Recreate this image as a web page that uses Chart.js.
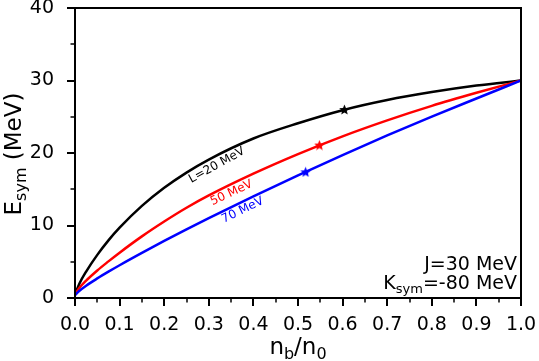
<!DOCTYPE html>
<html>
<head>
<meta charset="utf-8">
<script src="https://cdn.jsdelivr.net/npm/chart.js@4.4.0/dist/chart.umd.min.js"></script>
<style>
  html, body { margin: 0; padding: 0; background: #fff; }
  #wrap { width: 539px; height: 361px; }
</style>
</head>
<body>
<div id="wrap"><canvas id="chart"></canvas></div>
<script>
// ---------------------------------------------------------------------------
// Data (n_b/n_0 vs E_sym in MeV)
// ---------------------------------------------------------------------------
const density = [0, 0.01, 0.025, 0.05, 0.075, 0.1, 0.15, 0.2, 0.25, 0.3, 0.4, 0.5, 0.6, 0.7, 0.8, 0.9, 1.0];
const esymL20 = [0.5, 2.0, 3.65, 5.95, 7.95, 9.7, 12.7, 15.2, 17.3, 19.1, 22.0, 24.1, 25.9, 27.3, 28.4, 29.3, 30.0];
const esymL50 = [0.5, 1.4, 2.4, 3.8, 5.05, 6.25, 8.5, 10.55, 12.45, 14.15, 17.15, 19.85, 22.3, 24.5, 26.5, 28.3, 30.0];
const esymL70 = [0.4, 1.0, 1.7, 2.7, 3.63, 4.52, 6.22, 7.87, 9.47, 11.02, 14.02, 16.92, 19.72, 22.42, 25.02, 27.52, 30.0];

// star markers, one per curve (black, red, blue)
const starDensity = [0.604, 0.548, 0.517];
const starEsym = [26.0, 21.1, 17.4];

const xTickValues = [0, 0.1, 0.2, 0.3, 0.4, 0.5, 0.6, 0.7, 0.8, 0.9, 1.0];
const xTickLabels = ['0.0', '0.1', '0.2', '0.3', '0.4', '0.5', '0.6', '0.7', '0.8', '0.9', '1.0'];
const yTickValues = [0, 10, 20, 30, 40];
const yTickLabels = ['0', '10', '20', '30', '40'];

const curveColors = ['#000000', '#ff0000', '#0000ff'];
const FONT = "'DejaVu Sans', sans-serif";

// small filled star used as point style
function makeStar(color, size) {
  const c = document.createElement('canvas');
  c.width = size; c.height = size;
  const g = c.getContext('2d');
  const cx = size / 2, cy = size / 2 + 0.5, ro = size / 2, ri = ro * 0.45;
  g.beginPath();
  for (let i = 0; i < 10; i++) {
    const r = i % 2 ? ri : ro;
    const a = -Math.PI / 2 + i * Math.PI / 5;
    g.lineTo(cx + r * Math.cos(a), cy + r * Math.sin(a));
  }
  g.closePath();
  g.fillStyle = color;
  g.fill();
  return c;
}

// text with subscripts: parts = [[text, isSub], ...]
function drawRich(ctx, parts, x, y, size, align) {
  const subSize = Math.round(size * 0.7);
  let total = 0;
  parts.forEach(([t, sub]) => {
    ctx.font = (sub ? subSize : size) + 'px ' + FONT;
    total += ctx.measureText(t).width;
  });
  let cx = align === 'right' ? x - total : align === 'center' ? x - total / 2 : x;
  ctx.textAlign = 'left';
  ctx.textBaseline = 'alphabetic';
  parts.forEach(([t, sub]) => {
    ctx.font = (sub ? subSize : size) + 'px ' + FONT;
    ctx.fillText(t, cx, sub ? y + size * 0.22 : y);
    cx += ctx.measureText(t).width;
  });
}

const decorPlugin = {
  id: 'decor',
  afterDraw(chart) {
    const { ctx, chartArea: a, scales: { x, y } } = chart;
    ctx.save();
    ctx.strokeStyle = '#000';
    ctx.fillStyle = '#000';

    // tick marks, major and minor, pointing out
    for (let i = 0; i <= 20; i++) {
      const px = Math.round(x.getPixelForValue(i * 0.05));
      const major = i % 2 === 0;
      ctx.lineWidth = major ? 2 : 1.5;
      ctx.beginPath();
      ctx.moveTo(px, a.bottom);
      ctx.lineTo(px, a.bottom + (major ? 8 : 4.5));
      ctx.stroke();
    }
    for (let i = 0; i <= 8; i++) {
      const py = Math.round(y.getPixelForValue(i * 5));
      const major = i % 2 === 0;
      ctx.lineWidth = major ? 2 : 1.5;
      ctx.beginPath();
      ctx.moveTo(a.left, py);
      ctx.lineTo(a.left - (major ? 8 : 4.5), py);
      ctx.stroke();
    }

    // frame
    ctx.lineWidth = 2;
    ctx.strokeRect(a.left, a.top, a.right - a.left, a.bottom - a.top);

    // axis titles
    drawRich(ctx, [['n', false], ['b', true], ['/n', false], ['0', true]],
      (a.left + a.right) / 2, 354, 23, 'center');
    ctx.save();
    ctx.translate(21, (a.top + a.bottom) / 2 + 1);
    ctx.rotate(-Math.PI / 2);
    drawRich(ctx, [['E', false], ['sym', true], [' (MeV)', false]], 0, 0, 23, 'center');
    ctx.restore();

    // parameter box text
    drawRich(ctx, [['J=30 MeV', false]], a.right - 4, 270, 19, 'right');
    drawRich(ctx, [['K', false], ['sym', true], ['=-80 MeV', false]], a.right - 4, 289, 19, 'right');

    // curve labels
    const labels = [
      ['L=20 MeV', 0.318, 18.3, 29, curveColors[0]],
      ['50 MeV', 0.351, 14.5, 25, curveColors[1]],
      ['70 MeV', 0.376, 12.1, 26, curveColors[2]]
    ];
    labels.forEach(([t, u, e, ang, col]) => {
      ctx.save();
      ctx.translate(x.getPixelForValue(u), y.getPixelForValue(e));
      ctx.rotate(-ang * Math.PI / 180);
      ctx.font = '12px ' + FONT;
      ctx.fillStyle = col;
      ctx.textAlign = 'center';
      ctx.textBaseline = 'middle';
      ctx.fillText(t, 0, 0);
      ctx.restore();
    });
    ctx.restore();
  }
};

const curves = [esymL20, esymL50, esymL70].map((vals, i) => ({
  data: density.map((d, j) => ({ x: d, y: vals[j] })),
  borderColor: curveColors[i],
  borderWidth: 2.5,
  pointRadius: 0,
  cubicInterpolationMode: 'monotone',
  fill: false,
  order: 3 - i
}));

const stars = starDensity.map((d, i) => ({
  data: [{ x: d, y: starEsym[i] }],
  showLine: false,
  pointStyle: makeStar(curveColors[i], 11),
  pointRadius: 5,
  order: 0
}));

new Chart(document.getElementById('chart'), {
  type: 'line',
  data: { datasets: [...curves, ...stars] },
  options: {
    responsive: true,
    maintainAspectRatio: false,
    animation: false,
    layout: { padding: { top: 8, right: 18, left: 0, bottom: 0 } },
    plugins: { legend: { display: false }, tooltip: { enabled: false } },
    scales: {
      x: {
        type: 'linear',
        min: 0,
        max: 1,
        afterFit: s => { s.height = 63; s.paddingLeft = 0; s.paddingRight = 0; },
        afterBuildTicks: s => { s.ticks = xTickValues.map(v => ({ value: v })); },
        ticks: {
          color: '#000',
          padding: 8,
          maxRotation: 0,
          autoSkip: false,
          font: { family: FONT, size: 19 },
          callback: (v, i) => xTickLabels[i]
        },
        grid: { display: false },
        border: { display: false }
      },
      y: {
        min: 0,
        max: 40,
        afterFit: s => { s.width = 75; s.paddingTop = 0; s.paddingBottom = 0; },
        afterBuildTicks: s => { s.ticks = yTickValues.map(v => ({ value: v })); },
        ticks: {
          color: '#000',
          padding: 13,
          autoSkip: false,
          font: { family: FONT, size: 19 },
          callback: (v, i) => yTickLabels[i]
        },
        grid: { display: false },
        border: { display: false }
      }
    }
  },
  plugins: [decorPlugin]
});
</script>
</body>
</html>
